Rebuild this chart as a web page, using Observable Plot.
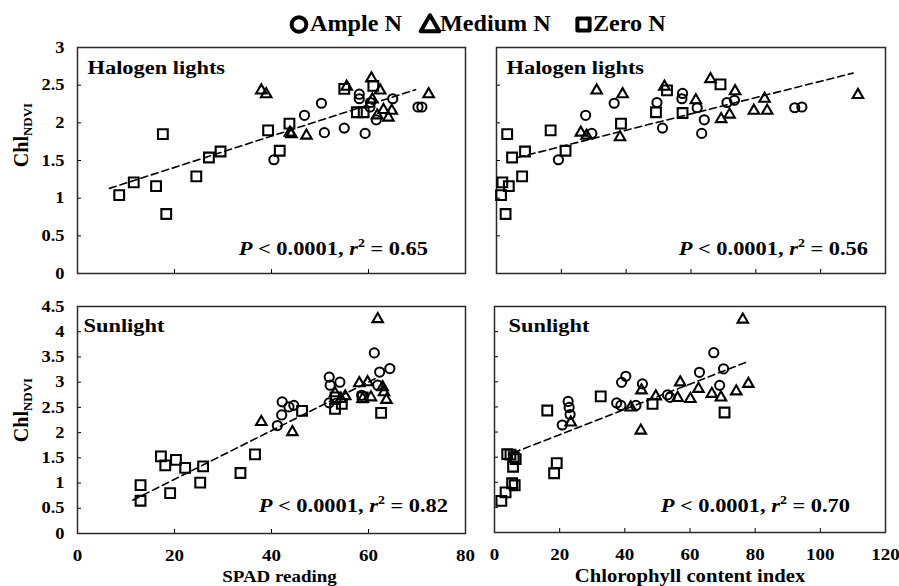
<!DOCTYPE html>
<html>
<head>
<meta charset="utf-8">
<script src="https://cdn.jsdelivr.net/npm/d3@7"></script>
<script src="https://cdn.jsdelivr.net/npm/@observablehq/plot@0.6"></script>
<style>
  html, body { margin: 0; padding: 0; background: #fff; }
  #wrap { position: relative; width: 899px; height: 586px; overflow: hidden; background: #fff;
          font-family: "Liberation Serif", Tinos, "Times New Roman", serif; color: #000; }
  .panel { position: absolute; }
  .panel svg { overflow: visible; }
</style>
</head>
<body>
<div id="wrap"></div>
<script>
// ---------------- DATA ----------------
const treatments = ["Ample N", "Medium N", "Zero N"];
const panelTitles = ["Halogen lights", "Halogen lights", "Sunlight", "Sunlight"];
const xAxisTitles = ["SPAD reading", "Chlorophyll content index"];
const yAxisMain = "Chl";
const yAxisSub = "NDVI";
const pValueText = "0.0001";
const r2Values = ["0.65", "0.56", "0.82", "0.70"];

const xTicksSpad = [0, 20, 40, 60, 80];
const xTicksCci = [0, 20, 40, 60, 80, 100, 120];
const yTicksHalogen = [0, 0.5, 1, 1.5, 2, 2.5, 3];
const yTicksSun = [0, 0.5, 1, 1.5, 2, 2.5, 3, 3.5, 4, 4.5];

// Halogen lights vs SPAD reading  [x, y]
const halSpadAmple = [[40.5,1.51],[46.8,2.10],[50.3,2.26],[50.9,1.87],[55.0,1.93],[58.1,2.38],[58.1,2.32],[59.3,1.86],[60.4,2.27],[60.3,2.21],[61.6,2.04],[65.0,2.32],[70.2,2.21],[71.0,2.21]];
const halSpadMedium = [[37.9,2.43],[38.9,2.38],[43.8,1.87],[44.1,1.85],[47.2,1.83],[55.5,2.48],[60.6,2.59],[62.4,2.43],[60.8,2.31],[61.8,2.10],[63.1,2.17],[64.1,2.07],[64.8,2.16],[72.4,2.38]];
const halSpadZero = [[8.6,1.04],[11.6,1.21],[16.2,1.16],[17.6,1.85],[18.3,0.79],[24.5,1.29],[27.1,1.54],[29.5,1.62],[39.3,1.90],[41.7,1.63],[43.7,1.99],[55.0,2.45],[57.6,2.14],[59.0,2.14],[61.0,2.49]];
const halSpadFit = [[6.6,1.13],[69.7,2.44]];

// Halogen lights vs chlorophyll content index
const halCciAmple = [[19.1,1.51],[27.5,2.10],[29.4,1.86],[36.3,2.26],[49.5,2.27],[51.2,1.93],[57.4,2.39],[57.2,2.32],[61.9,2.20],[64.1,2.04],[63.3,1.86],[71.1,2.27],[73.4,2.30],[92.0,2.20],[94.2,2.21]];
const halCciMedium = [[30.9,2.43],[38.9,2.38],[26.0,1.87],[27.8,1.83],[38.1,1.81],[51.8,2.48],[61.5,2.30],[66.0,2.58],[69.3,2.05],[71.9,2.11],[73.6,2.42],[79.4,2.16],[82.7,2.32],[83.5,2.16],[111.5,2.37]];
const halCciZero = [[3.3,1.85],[4.8,1.54],[8.8,1.62],[1.8,1.21],[3.8,1.16],[1.4,1.04],[2.8,0.79],[7.9,1.29],[16.7,1.90],[21.3,1.63],[38.4,1.99],[49.2,2.14],[52.6,2.43],[57.4,2.13],[69.1,2.51]];
const halCciFit = [[6.5,1.54],[110,2.66]];

// Sunlight vs SPAD reading
const sunSpadAmple = [[41.2,2.14],[42.1,2.35],[42.2,2.61],[43.6,2.51],[44.6,2.54],[51.9,3.10],[52.1,2.94],[54.1,3.00],[51.9,2.59],[61.2,3.58],[62.3,3.20],[64.4,3.27],[61.9,2.94],[58.6,2.74]];
const sunSpadMedium = [[37.9,2.21],[44.3,2.01],[61.9,4.25],[58.1,2.98],[59.8,3.00],[62.9,2.90],[63.2,2.80],[63.7,2.65],[60.5,2.70],[53.1,2.78],[55.2,2.72],[54.3,2.67],[58.8,2.67]];
const sunSpadZero = [[13.0,0.96],[13.0,0.65],[17.2,1.53],[18.1,1.35],[19.1,0.80],[20.3,1.46],[22.2,1.30],[25.9,1.33],[25.3,1.01],[33.6,1.20],[36.6,1.57],[46.3,2.43],[53.1,2.47],[54.5,2.57],[58.8,2.70],[62.6,2.39],[53.2,2.70]];
const sunSpadFit = [[11.4,0.66],[62,3.10]];

// Sunlight vs chlorophyll content index
const sunCciAmple = [[20.8,2.14],[22.6,2.61],[22.9,2.49],[23.2,2.35],[37.5,2.58],[38.8,2.53],[39.0,2.99],[40.3,3.11],[43.4,2.53],[45.4,2.96],[53.1,2.74],[53.9,2.69],[62.9,3.19],[67.3,3.58],[70.3,3.26],[69.1,2.93]];
const sunCciMedium = [[23.4,2.19],[41.8,2.49],[44.9,2.03],[45.1,2.83],[49.5,2.71],[56.2,2.68],[57.0,2.99],[60.1,2.66],[62.6,2.86],[66.7,2.76],[69.5,2.69],[74.2,2.81],[76.2,4.24],[77.9,2.96]];
const sunCciZero = [[2.1,0.63],[3.4,0.80],[5.4,0.98],[6.2,0.94],[3.9,1.56],[4.9,1.55],[5.9,1.50],[5.7,1.31],[6.5,1.46],[18.3,1.18],[19.1,1.38],[16.2,2.43],[32.6,2.71],[48.5,2.56],[70.6,2.39]];
const sunCciFit = [[5.8,1.59],[78,3.41]];

// ---------------- DRAWING ----------------
const FONT = '"Liberation Serif", Tinos, "Times New Roman", serif';
const SX = 1.15; // horizontal glyph stretch seen in the reference
const wrap = document.getElementById("wrap");

function stretchTexts(svg) {
  d3.select(svg).selectAll("text").each(function () {
    const t = this.getAttribute("transform");
    if (t) this.setAttribute("transform", t + ` scale(${SX},1)`);
  });
}

function addStat(svg, x, y, r2) {
  const t = d3.select(svg).append("text")
    .attr("transform", `translate(${x},${y}) scale(${SX},1)`)
    .attr("text-anchor", "end")
    .style("font-family", FONT).attr("font-weight", "bold").attr("font-size", 19.5)
    .attr("fill", "#000");
  t.append("tspan").attr("font-style", "italic").text("P");
  t.append("tspan").text(` < ${pValueText}, `);
  t.append("tspan").attr("font-style", "italic").text("r");
  t.append("tspan").attr("font-size", 12).attr("dy", -8).text("2");
  t.append("tspan").attr("dy", 8).text(` = ${r2}`);
}

function addYLabel(svg, x, y) {
  const t = d3.select(svg).append("text")
    .attr("transform", `translate(${x},${y}) rotate(-90)`)
    .attr("text-anchor", "middle")
    .style("font-family", FONT).attr("font-weight", "bold").attr("font-size", 20)
    .attr("fill", "#000");
  t.append("tspan").text(yAxisMain);
  t.append("tspan").attr("font-size", 13).attr("dy", 4).text(yAxisSub);
}

function panel(cfg) {
  const marks = [
    Plot.axisY(cfg.yTicks, {
      anchor: "left", tickSize: -4, tickPadding: 4 + 13, label: null,
      tickFormat: cfg.yLabels ? (d) => String(d) : () => "",
      fontSize: 16, fontWeight: "bold", fontFamily: FONT
    }),
    Plot.axisX(cfg.xTicks, {
      anchor: "bottom", tickSize: -4, tickPadding: 4 + 16, label: null,
      tickFormat: cfg.xLabels ? (d) => String(d) : () => "",
      fontSize: 16.5, fontWeight: "bold", fontFamily: FONT
    }),
    Plot.frame({ stroke: "#2a2a2a", strokeWidth: 1.5 }),
    Plot.line(cfg.fit, { x: (d) => d[0], y: (d) => d[1], stroke: "#000", strokeWidth: 1.6, strokeDasharray: "7,4" }),
    Plot.dot(cfg.zero, { x: (d) => d[0], y: (d) => d[1], symbol: "square", r: 5.5, fill: "none", stroke: "#000", strokeWidth: 2.1 }),
    Plot.dot(cfg.ample, { x: (d) => d[0], y: (d) => d[1], symbol: "circle", r: 4.6, fill: "none", stroke: "#000", strokeWidth: 2 }),
    Plot.dot(cfg.medium, { x: (d) => d[0], y: (d) => d[1], symbol: "triangle", r: 3.9, fill: "none", stroke: "#000", strokeWidth: 2.1 }),
    Plot.text([cfg.title], {
      frameAnchor: "top-left", dx: cfg.titleDx, dy: cfg.titleDy, lineAnchor: "top", textAnchor: "start",
      fontSize: 19.5, fontWeight: "bold", fontFamily: FONT, fill: "#000"
    })
  ];
  if (cfg.xTitle) {
    marks.push(Plot.text([cfg.xTitle], {
      frameAnchor: "bottom", dx: cfg.xTitleDx, dy: cfg.xTitleDy, lineAnchor: "middle", textAnchor: "middle",
      fontSize: cfg.xTitleSize, fontWeight: "bold", fontFamily: FONT, fill: "#000"
    }));
  }
  const svg = Plot.plot({
    width: cfg.width, height: cfg.height,
    marginLeft: cfg.ml, marginRight: cfg.mr, marginTop: cfg.mt, marginBottom: cfg.mb,
    x: { domain: cfg.xDomain },
    y: { domain: cfg.yDomain },
    style: { background: "transparent", color: "#000", fontFamily: FONT, overflow: "visible" },
    marks
  });
  stretchTexts(svg);
  const div = document.createElement("div");
  div.className = "panel";
  div.style.left = cfg.left + "px";
  div.style.top = cfg.top + "px";
  div.appendChild(svg);
  wrap.appendChild(div);
  addStat(svg, cfg.statX, cfg.statY, cfg.r2);
  if (cfg.yTitle) addYLabel(svg, cfg.yTitleX, cfg.yTitleY);
  return svg;
}

// Top-left: Halogen / SPAD
panel({
  left: 0, top: 30, width: 480, height: 260, ml: 77, mr: 15, mt: 17, mb: 17,
  xDomain: [0, 80], yDomain: [0, 3], xTicks: xTicksSpad, yTicks: yTicksHalogen,
  xLabels: false, yLabels: true,
  ample: halSpadAmple, medium: halSpadMedium, zero: halSpadZero, fit: halSpadFit,
  title: panelTitles[0], titleDx: 10, titleDy: 13,
  statX: 428, statY: 225, r2: r2Values[0],
  yTitle: true, yTitleX: 28, yTitleY: 105
});
// Top-right: Halogen / CCI
panel({
  left: 480, top: 30, width: 419, height: 260, ml: 16, mr: 14, mt: 17, mb: 17,
  xDomain: [0, 120], yDomain: [0, 3], xTicks: xTicksCci, yTicks: yTicksHalogen,
  xLabels: false, yLabels: false,
  ample: halCciAmple, medium: halCciMedium, zero: halCciZero, fit: halCciFit,
  title: panelTitles[1], titleDx: 10, titleDy: 13,
  statX: 388, statY: 225, r2: r2Values[1]
});
// Bottom-left: Sunlight / SPAD
panel({
  left: 0, top: 290, width: 480, height: 296, ml: 77, mr: 15, mt: 16, mb: 53,
  xDomain: [0, 80], yDomain: [0, 4.5], xTicks: xTicksSpad, yTicks: yTicksSun,
  xLabels: true, yLabels: true,
  ample: sunSpadAmple, medium: sunSpadMedium, zero: sunSpadZero, fit: sunSpadFit,
  title: panelTitles[2], titleDx: 6, titleDy: 12,
  xTitle: xAxisTitles[0], xTitleDx: 8, xTitleDy: 43, xTitleSize: 16.5,
  statX: 448, statY: 222, r2: r2Values[2],
  yTitle: true, yTitleX: 28, yTitleY: 120
});
// Bottom-right: Sunlight / CCI
panel({
  left: 480, top: 290, width: 419, height: 296, ml: 14, mr: 14, mt: 16, mb: 54,
  xDomain: [0, 120], yDomain: [0, 4.5], xTicks: xTicksCci, yTicks: yTicksSun,
  xLabels: true, yLabels: false,
  ample: sunCciAmple, medium: sunCciMedium, zero: sunCciZero, fit: sunCciFit,
  title: panelTitles[3], titleDx: 14, titleDy: 12,
  xTitle: xAxisTitles[1], xTitleDx: 0, xTitleDy: 44, xTitleSize: 18,
  statX: 370, statY: 222, r2: r2Values[3]
});

// Legend (above the panels)
(function legend() {
  const svg = d3.create("svg").attr("width", 899).attr("height", 40)
    .style("position", "absolute").style("left", "0px").style("top", "0px");
  const items = [
    { label: treatments[0], sym: d3.symbolCircle, cx: 299, size: 170, tx: 310 },
    { label: treatments[1], sym: d3.symbolTriangle, cx: 430, size: 150, tx: 440 },
    { label: treatments[2], sym: d3.symbolSquare, cx: 583.5, size: 150, tx: 593 }
  ];
  for (const it of items) {
    svg.append("path")
      .attr("d", d3.symbol(it.sym, it.size)())
      .attr("transform", `translate(${it.cx},${it.sym === d3.symbolTriangle ? 26 : 24.5})`)
      .attr("fill", "none").attr("stroke", "#000").attr("stroke-width", 4)
      .attr("stroke-linejoin", "round");
    svg.append("text")
      .attr("transform", `translate(${it.tx},31) scale(1.05,1)`)
      .style("font-family", FONT).attr("font-weight", "bold").attr("font-size", 23)
      .attr("fill", "#000")
      .text(it.label);
  }
  wrap.appendChild(svg.node());
})();
</script>
</body>
</html>
